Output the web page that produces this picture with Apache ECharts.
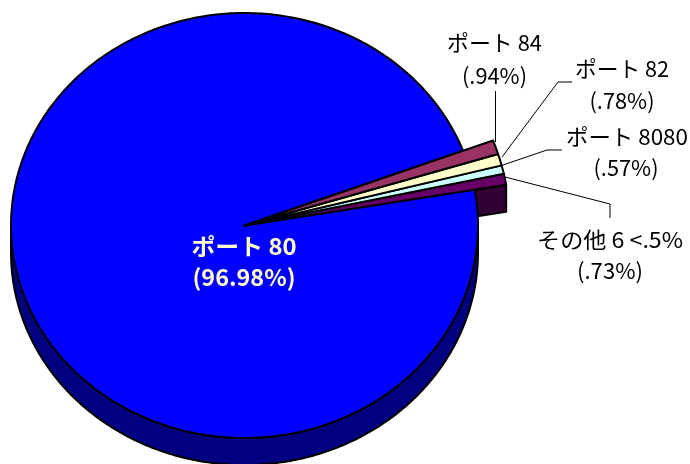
<!DOCTYPE html>
<html><head><meta charset="utf-8">
<style>html,body{margin:0;padding:0;background:#fff}#c{width:690px;height:464px}</style>
<script src="https://cdn.jsdelivr.net/npm/echarts@6/dist/echarts.min.js"></script>
</head><body><div id="c"></div>
<script>
// Data, clockwise from the top edge of the small slices
const sliceNames = ['ポート 84', 'ポート 82', 'ポート 8080', 'その他 6 <.5%', 'ポート 80'];
const slicePercents = ['(.94%)', '(.78%)', '(.57%)', '(.73%)', '(96.98%)'];
const sliceValues = [0.94, 0.78, 0.57, 0.73, 96.98];

// Styling and layout
const topColors = ['#993366', '#FFFFCC', '#CCFFFF', '#660066', '#0000FF'];
const pullOut = [1.137, 1.137, 1.137, 1.137, 1];
const CX = 244.5, CY = 225.5, RX = 233.5, RY = 212.5, DEPTH = 27, START = 20.6;
const labelPos = [[494.5, 43, 494.5, 76], [622, 69, 622, 101], [627, 137, 626, 168], [610, 240, 610, 271], [244, 246, 244, 277]];
const labelWidths = [[95, 65], [94, 65], [122, 65], [146, 66], [105, 103]];
const leaders = [
  [[495.5, 91], [495.5, 142]],
  [[572, 82], [558, 82], [502, 157]],
  [[562, 150], [547, 150], [503, 165]],
  [[610, 218], [610, 204], [505, 177]]
];

const total = sliceValues.reduce((a, b) => a + b, 0);
const pt = (deg, k) => {
  const t = deg * Math.PI / 180;
  return [CX + RX * k * Math.cos(t), CY - RY * k * Math.sin(t)];
};
// angular range of slice i, in degrees, decreasing (clockwise)
const range = i => {
  let a = START;
  for (let j = 0; j < i; j++) a -= sliceValues[j] / total * 360;
  return [a, a - sliceValues[i] / total * 360];
};
const arc = (a0, a1, k) => {
  const n = Math.max(2, Math.ceil(Math.abs(a0 - a1) / 0.75));
  const out = [];
  for (let s = 0; s <= n; s++) out.push(pt(a0 + (a1 - a0) * s / n, k));
  return out;
};
const edge = { stroke: '#000', lineWidth: 2, lineJoin: 'round' };
const poly = (points, fill, z2) => ({ type: 'polygon', z2, shape: { points }, style: Object.assign({ fill }, edge) });

const rows = sliceValues.map((v, i) => [i, v]);
const measureCtx = document.createElement('canvas').getContext('2d');
const fitText = (text, font, x, y, width, fill) => {
  measureCtx.font = font;
  const w = measureCtx.measureText(text).width;
  return { type: 'text', x, y, scaleX: width / w, scaleY: 1, style: { text, font, fill, align: 'center', verticalAlign: 'middle' } };
};

function renderWalls(params, api) {
  const i = api.value(0);
  if (i === 3) { // cut face of the last small slice
    const p = pt(range(3)[1], pullOut[3]);
    return poly([[CX, CY], p, [p[0], p[1] + DEPTH], [CX, CY + DEPTH]], '#330033', 1);
  }
  if (i === 4) { // outer wall of the large slice
    const a = arc(0, -180, 1);
    const b = a.slice().reverse().map(q => [q[0], q[1] + DEPTH]);
    return poly(a.concat(b), '#000080', 2);
  }
  return null;
}
function renderTops(params, api) {
  const i = api.value(0);
  const [a0, a1] = range(i);
  return poly([[CX, CY]].concat(arc(a0, a1, pullOut[i])), topColors[i], i === 4 ? 1 : 10 - i);
}
function renderLabels(params, api) {
  const i = api.value(0);
  const big = i === 4;
  const p = labelPos[i];
  const wd = labelWidths[i];
  const font = (big ? 'bold 23px' : '22px') + ' "Noto Sans CJK JP", sans-serif';
  const fill = big ? '#FFFFCC' : '#000';
  const children = [
    fitText(sliceNames[i], font, p[0], p[1], wd[0], fill),
    fitText(slicePercents[i], font, p[2], p[3], wd[1], fill)
  ];
  if (leaders[i]) children.push({ type: 'polyline', shape: { points: leaders[i] }, style: { fill: 'none', stroke: '#000', lineWidth: 1 } });
  return { type: 'group', children };
}
const chart = echarts.init(document.getElementById('c'), null, { renderer: 'canvas' });
const base = { type: 'custom', coordinateSystem: 'none', data: rows, silent: true, animation: false, clip: false };
chart.setOption({
  animation: false,
  backgroundColor: '#fff',
  series: [
    Object.assign({ renderItem: renderWalls, z: 1 }, base),
    Object.assign({ renderItem: renderTops, z: 2 }, base),
    Object.assign({ renderItem: renderLabels, z: 3 }, base)
  ]
});
</script></body></html>
